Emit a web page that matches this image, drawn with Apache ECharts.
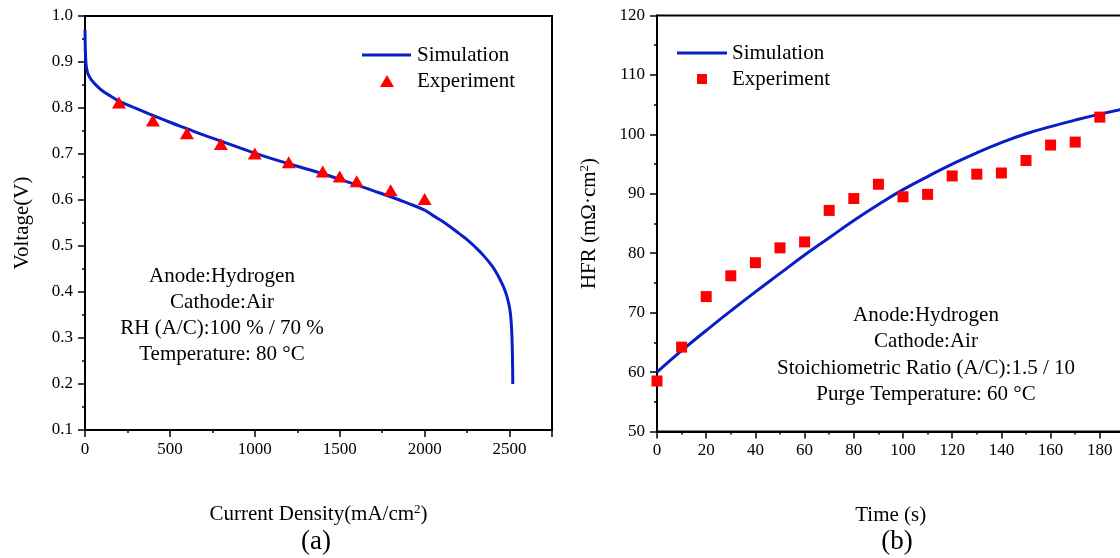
<!DOCTYPE html>
<html><head><meta charset="utf-8">
<script src="https://cdn.jsdelivr.net/npm/echarts@6/dist/echarts.min.js"></script>
<style>html,body{margin:0;padding:0;background:#fff}#c{width:1120px;height:558px}</style>
</head><body><div id="c"></div>
<script>
// ---- Panel (a): polarization curve ----
const currentDensitySim = [0, 2, 5, 10, 20, 40, 70, 100, 150, 200, 300, 400, 500, 600, 700, 800, 900, 1000, 1100, 1200, 1300, 1400, 1500, 1600, 1700, 1800, 1900, 2000, 2050, 2100, 2150, 2200, 2250, 2300, 2350, 2400, 2430, 2460, 2480, 2495, 2505, 2512, 2516, 2518, 2519];
const voltageSim = [0.970, 0.925, 0.900, 0.885, 0.872, 0.860, 0.848, 0.838, 0.826, 0.815, 0.799, 0.784, 0.769, 0.755, 0.741, 0.728, 0.715, 0.702, 0.690, 0.679, 0.668, 0.657, 0.645, 0.633, 0.620, 0.607, 0.593, 0.578, 0.566, 0.555, 0.542, 0.528, 0.514, 0.497, 0.478, 0.455, 0.437, 0.415, 0.396, 0.375, 0.354, 0.320, 0.280, 0.240, 0.200];
const currentDensityExp = [200, 400, 600, 800, 1000, 1200, 1400, 1500, 1600, 1800, 2000];
const voltageExp = [0.812, 0.773, 0.745, 0.722, 0.701, 0.682, 0.662, 0.651, 0.641, 0.621, 0.602];

// ---- Panel (b): HFR during purge ----
const timeSim = [0, 10, 20, 30, 40, 50, 60, 70, 80, 90, 100, 110, 120, 130, 140, 150, 160, 170, 180, 190];
const hfrSim = [60.0, 63.6, 67.0, 70.3, 73.5, 76.6, 79.7, 82.6, 85.5, 88.2, 90.7, 92.9, 95.0, 96.9, 98.6, 100.1, 101.3, 102.4, 103.4, 104.3];
const timeExp = [0, 10, 20, 30, 40, 50, 60, 70, 80, 90, 100, 110, 120, 130, 140, 150, 160, 170, 180];
const hfrExp = [58.5, 64.2, 72.7, 76.2, 78.4, 80.9, 81.9, 87.2, 89.2, 91.6, 89.5, 89.9, 93.0, 93.3, 93.5, 95.6, 98.2, 98.7, 102.9];

const seriesNames = ['Simulation', 'Experiment'];
const annotationA = ['Anode:Hydrogen', 'Cathode:Air', 'RH (A/C):100 % / 70 %', 'Temperature: 80 °C'];
const annotationB = ['Anode:Hydrogen', 'Cathode:Air', 'Stoichiometric Ratio (A/C):1.5 / 10', 'Purge Temperature: 60 °C'];

const FONT = 'Liberation Serif';
const BLUE = '#0a1ec8';
const RED = '#ff0000';

const zip = (a, b) => a.map((v, i) => [v, b[i]]);

const chart = echarts.init(document.getElementById('c'), null, {renderer: 'canvas'});

const axisLineStyle = {show: true, lineStyle: {color: '#000', width: 2}};
const labelStyle = {color: '#000', fontFamily: FONT, fontSize: 17};
const nameStyle = {color: '#000', fontFamily: FONT, fontSize: 21,
  rich: {sup: {fontFamily: FONT, fontSize: 13, color: '#000', padding: [0, 0, 10, 0]}}};
const legendText = (padLeft) => ({color: '#000', fontFamily: FONT, fontSize: 21, lineHeight: 21, padding: [0, 0, 0, padLeft]});

const option = {
  animation: false,
  backgroundColor: '#fff',
  textStyle: {fontFamily: FONT},
  grid: [
    {left: 85, top: 16, width: 467, height: 414, show: true, borderColor: '#000', borderWidth: 2, containLabel: false, outerBoundsMode: 'none'},
    {left: 657, top: 15.5, width: 467.4, height: 416, show: true, borderColor: '#000', borderWidth: 2, containLabel: false, outerBoundsMode: 'none'}
  ],
  xAxis: [
    {gridIndex: 0, type: 'value', position: 'bottom', min: 0, max: 2750, interval: 250,
     axisLine: axisLineStyle, axisTick: {show: true, length: 3, lineStyle: {color: '#000', width: 1.5}},
     axisLabel: {show: false}, splitLine: {show: false}},
    {gridIndex: 0, type: 'value', position: 'bottom', min: 0, max: 2750, interval: 500,
     axisLine: {show: false}, axisTick: {show: true, length: 7, lineStyle: {color: '#000', width: 1.5}},
     axisLabel: Object.assign({margin: 11, formatter: v => (v % 500 === 0 ? String(v) : '')}, labelStyle),
     splitLine: {show: false},
     name: 'Current Density(mA/cm{sup|2})', nameLocation: 'middle', nameGap: 73, nameTextStyle: nameStyle},
    {gridIndex: 1, type: 'value', position: 'bottom', min: 0, max: 190, interval: 10,
     axisLine: axisLineStyle, axisTick: {show: true, length: 3, lineStyle: {color: '#000', width: 1.5}},
     axisLabel: {show: false}, splitLine: {show: false}},
    {gridIndex: 1, type: 'value', position: 'bottom', min: 0, max: 190, interval: 20,
     axisLine: {show: false}, axisTick: {show: true, length: 7, lineStyle: {color: '#000', width: 1.5}},
     axisLabel: Object.assign({margin: 11, formatter: v => (v % 20 === 0 ? String(v) : '')}, labelStyle),
     splitLine: {show: false},
     name: 'Time (s)', nameLocation: 'middle', nameGap: 73, nameTextStyle: nameStyle}
  ],
  yAxis: [
    {gridIndex: 0, type: 'value', min: 0.1, max: 1.0, interval: 0.1,
     axisLine: axisLineStyle,
     axisTick: {show: true, length: 7, lineStyle: {color: '#000', width: 1.5}},
     minorTick: {show: true, splitNumber: 2, length: 3, lineStyle: {color: '#000', width: 1.5}},
     axisLabel: Object.assign({margin: 12, formatter: v => v.toFixed(1)}, labelStyle),
     splitLine: {show: false}, minorSplitLine: {show: false},
     name: 'Voltage(V)', nameLocation: 'middle', nameGap: 52, nameRotate: 90, nameTextStyle: nameStyle},
    {gridIndex: 1, type: 'value', min: 50, max: 120, interval: 10,
     axisLine: axisLineStyle,
     axisTick: {show: true, length: 7, lineStyle: {color: '#000', width: 1.5}},
     minorTick: {show: true, splitNumber: 2, length: 3, lineStyle: {color: '#000', width: 1.5}},
     axisLabel: Object.assign({margin: 12}, labelStyle),
     splitLine: {show: false}, minorSplitLine: {show: false},
     name: 'HFR (m\u03A9\u00B7cm{sup|2})', nameLocation: 'middle', nameGap: 56, nameRotate: 90, nameTextStyle: nameStyle}
  ],
  legend: [
    {data: [{name: seriesNames[0], icon: 'rect'}], left: 362, top: 44.5, padding: 0, itemWidth: 49, itemHeight: 3,
     textStyle: legendText(1), selectedMode: false},
    {data: [{name: seriesNames[1], icon: 'triangle'}], left: 380, top: 70.5, padding: 0, itemWidth: 14, itemHeight: 12,
     textStyle: legendText(18), selectedMode: false},
    {data: [{name: seriesNames[0] + ' (b)', icon: 'rect'}], left: 677, top: 42.5, padding: 0, itemWidth: 50, itemHeight: 3,
     formatter: n => n.replace(' (b)', ''), textStyle: legendText(0), selectedMode: false},
    {data: [{name: seriesNames[1] + ' (b)', icon: 'rect'}], left: 697, top: 68.5, padding: 0, itemWidth: 10, itemHeight: 10,
     formatter: n => n.replace(' (b)', ''), textStyle: legendText(20), selectedMode: false}
  ],
  series: [
    {name: seriesNames[0], type: 'line', xAxisIndex: 0, yAxisIndex: 0, data: zip(currentDensitySim, voltageSim),
     symbol: 'none', smooth: 0.4, lineStyle: {color: BLUE, width: 3}, itemStyle: {color: BLUE}, z: 2},
    {name: seriesNames[1], type: 'scatter', xAxisIndex: 0, yAxisIndex: 0, data: zip(currentDensityExp, voltageExp),
     symbol: 'triangle', symbolSize: [14, 12], itemStyle: {color: RED, opacity: 1}, z: 3},
    {name: seriesNames[0] + ' (b)', type: 'line', xAxisIndex: 2, yAxisIndex: 1, data: zip(timeSim, hfrSim),
     symbol: 'none', smooth: true, lineStyle: {color: BLUE, width: 3}, itemStyle: {color: BLUE}, z: 2},
    {name: seriesNames[1] + ' (b)', type: 'scatter', xAxisIndex: 2, yAxisIndex: 1, data: zip(timeExp, hfrExp),
     symbol: 'rect', symbolSize: 11, itemStyle: {color: RED, opacity: 1}, z: 3}
  ],
  graphic: [
    {type: 'text', x: 222, y: 263, z: 10, style: {text: annotationA.join('\n'), fontFamily: FONT, fontSize: 21, fill: '#000', align: 'center', verticalAlign: 'top', lineHeight: 26}},
    {type: 'text', x: 926, y: 302, z: 10, style: {text: annotationB.join('\n'), fontFamily: FONT, fontSize: 21, fill: '#000', align: 'center', verticalAlign: 'top', lineHeight: 26.5}},
    {type: 'text', x: 316, y: 542, z: 10, style: {text: '(a)', fontFamily: FONT, fontSize: 27, fill: '#000', align: 'center', verticalAlign: 'middle'}},
    {type: 'text', x: 897, y: 542, z: 10, style: {text: '(b)', fontFamily: FONT, fontSize: 27, fill: '#000', align: 'center', verticalAlign: 'middle'}}
  ]
};
chart.setOption(option);
</script>
</body></html>
